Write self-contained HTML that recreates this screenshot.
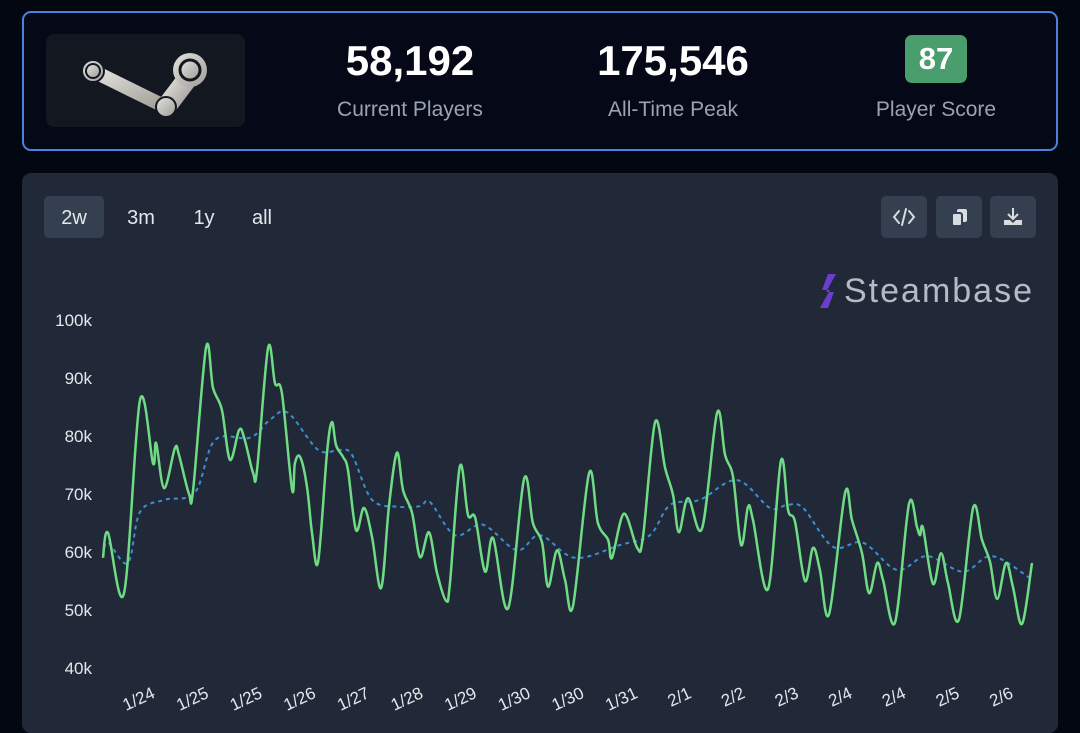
<!DOCTYPE html>
<html><head><meta charset="utf-8">
<style>
html,body{margin:0;padding:0;width:1080px;height:711px;overflow:hidden;background:#030712;font-family:"Liberation Sans",sans-serif;}
.top{position:absolute;left:22px;top:11px;width:1032px;height:136px;border:2px solid #4b82e0;border-radius:9px;background:#050917;}
.logo{position:absolute;left:22px;top:21px;width:199px;height:93px;background:#131820;border-radius:8px;}
.stat{position:absolute;top:24px;width:260px;text-align:center;}
.num{color:#fff;font-weight:bold;font-size:42px;line-height:48px;}
.lbl{color:#9aa3b2;font-size:21px;margin-top:13px;}
.badge{position:absolute;left:881px;top:22px;width:62px;height:48px;background:#4a9e6e;border-radius:7px;color:#fff;font-weight:bold;font-size:31px;text-align:center;line-height:48px;}
.card{position:absolute;left:22px;top:173px;width:1036px;height:560px;background:#212939;border-radius:9px;}
.rb{position:absolute;top:23px;height:42px;line-height:44px;color:#e5e7eb;font-size:20px;text-align:center;border-radius:5px;}
.ib{position:absolute;top:23px;width:46px;height:42px;background:#343f50;border-radius:5px;}
</style></head><body>
<div class="top">
  <div class="logo">
    <svg width="199" height="93" viewBox="0 0 199 93">
      <defs><linearGradient id="g" x1="0" y1="0" x2="1" y2="1"><stop offset="0" stop-color="#e4e3df"/><stop offset="1" stop-color="#9f9c96"/></linearGradient></defs>
      <line x1="47" y1="37" x2="120" y2="73" stroke="url(#g)" stroke-width="14" stroke-linecap="round"/>
      <path d="M120 73 L142 44" stroke="url(#g)" stroke-width="20" stroke-linecap="round"/>
      <circle cx="144" cy="36" r="17" fill="url(#g)"/>
      <circle cx="144" cy="36" r="10" fill="url(#g)" stroke="#131820" stroke-width="3"/>
      <circle cx="47" cy="37" r="11" fill="url(#g)" stroke="#131820" stroke-width="2"/>
      <circle cx="47" cy="37" r="7" fill="url(#g)" stroke="#131820" stroke-width="2"/>
      <circle cx="120" cy="73" r="10" fill="url(#g)" stroke="#131820" stroke-width="2"/>
    </svg>
  </div>
  <div class="stat" style="left:256px"><div class="num">58,192</div><div class="lbl">Current Players</div></div>
  <div class="stat" style="left:519px"><div class="num">175,546</div><div class="lbl">All-Time Peak</div></div>
  <div class="badge">87</div>
  <div class="stat" style="left:782px;top:85px"><div class="lbl" style="margin:0">Player Score</div></div>
</div>
<div class="card">
  <div class="rb" style="left:22px;width:60px;background:#343f50">2w</div>
  <div class="rb" style="left:94px;width:50px">3m</div>
  <div class="rb" style="left:160px;width:44px">1y</div>
  <div class="rb" style="left:220px;width:40px">all</div>
  <div class="ib" style="left:859px"><svg width="46" height="42"><path d="M18 15 L13 21 L18 27 M28 15 L33 21 L28 27 M25 13 L21 29" stroke="#d8dbe0" stroke-width="2" fill="none" stroke-linecap="round"/></svg></div>
  <div class="ib" style="left:914px"><svg width="46" height="42"><rect x="21" y="13" width="10" height="13" rx="2" fill="#d8dbe0"/><rect x="16" y="17" width="10" height="13" rx="2" fill="#d8dbe0" stroke="#343f50" stroke-width="2"/></svg></div>
  <div class="ib" style="left:968px"><svg width="46" height="42"><path d="M23 12 V23 M18 18 L23 23 L28 18" stroke="#d8dbe0" stroke-width="2" fill="none"/><path d="M14 24 h6 l3 3 l3 -3 h6 v5 h-18z" fill="#d8dbe0"/></svg></div>
</div>
<svg id="chart" width="1080" height="711" style="position:absolute;left:0;top:0">
  <g>
    <path d="M828 274 L836 274 L826 292 L834 292 L828 308 L820 308 L830 290 L822 290 Z" fill="#6a3fd0"/>
    <text x="844" y="302" font-size="34" fill="#b6bac2" font-family="Liberation Sans, sans-serif" textLength="188">Steambase</text>
  </g>
  <g id="yaxis"></g><g id="xaxis"></g><g id="series"></g>
</svg>
<script>
const yTicks=[100,90,80,70,60,50,40];
const xTickLabels=["1/24","1/25","1/25","1/26","1/27","1/28","1/29","1/30","1/30","1/31","2/1","2/2","2/3","2/4","2/4","2/5","2/6"];
const playerHours=[0,1.8,7.6,13.4,18.1,19.2,22.1,26.0,27.5,31.1,32.6,37.3,39.8,43.0,45.9,49.2,51.0,54.3,55.7,59.7,62.2,64.7,68.4,69.4,71.3,73.8,75.6,77.8,81.0,82.8,84.3,86.8,88.6,91.5,94.4,97.3,100.6,103.4,106.3,108.5,111.8,114.7,117.9,120.8,124.1,125.5,129.1,132.0,134.6,138.2,141.1,146.5,152.3,155.5,158.8,161.0,164.2,167.1,170.0,175.8,179.0,182.7,184.1,188.4,193.2,195.3,199.7,203.3,206.2,208.3,211.6,216.7,222.1,225.0,227.9,230.8,233.3,235.1,240.5,245.2,247.8,250.3,253.9,256.8,259.3,262.6,268.4,270.9,274.5,277.1,280.0,282.1,286.5,291.5,294.4,295.5,296.6,300.2,303.1,305.6,309.6,314.7,317.9,320.8,323.4,326.6,329.1,332.4,336];
const playerValues=[59.0,63.3,52.9,86.2,75.3,78.8,71.0,77.9,76.7,70.0,70.7,95.3,88.3,84.5,75.9,81.0,79.8,73.6,74.1,95.2,89.1,87.4,70.7,75.3,76.4,71.2,63.3,58.3,77.1,82.4,78.4,76.4,74.1,63.8,67.6,62.6,53.8,67.8,77.1,70.7,66.7,59.1,63.4,56.4,51.6,54.7,74.8,66.4,65.9,56.6,62.4,50.3,72.6,65.0,61.6,54.0,60.3,55.2,50.7,73.6,65.0,62.1,59.0,66.6,60.7,62.6,82.4,74.5,69.8,63.4,69.3,64.1,84.0,76.7,72.9,61.2,67.8,65.5,53.6,75.7,67.2,65.2,55.0,60.7,56.9,49.3,70.2,65.5,59.8,52.9,58.1,55.2,47.9,68.3,64.3,62.9,64.1,54.5,59.8,54.7,48.4,67.6,62.1,58.3,51.9,58.1,54.0,47.6,58.1];
const avgHours=[0,1.8,9.0,13.4,22.4,33.3,40.5,53.2,60.4,66.9,77.8,85.7,90.1,97.3,107.4,114.7,118.3,127.3,137.4,149.7,158.1,170.7,187.0,197.8,205.1,215.9,229.3,241.2,247.4,253.2,264.0,274.9,287.2,298.0,311.1,321.5,335.3];
const avgValues=[59.3,61.6,58.1,66.9,69.0,70.3,79.3,79.7,82.8,84.0,77.6,77.6,76.7,69.0,67.8,67.9,68.6,62.9,64.7,60.3,62.9,59.0,61.2,62.9,68.1,69.0,72.4,67.6,68.1,67.6,60.9,61.6,56.9,59.3,56.6,59.3,55.5];

const NS="http://www.w3.org/2000/svg";
const X0=103,X1=1032,Y40=668,PX10K=58;
function xs(h){return X0+(h/336)*(X1-X0);}
function ys(v){return Y40-(v-40)/10*PX10K;}
function mk(tag,attrs,parent){const e=document.createElementNS(NS,tag);for(const k in attrs)e.setAttribute(k,attrs[k]);parent.appendChild(e);return e;}
function smooth(pts){let d="M"+pts[0][0].toFixed(1)+" "+pts[0][1].toFixed(1);
 for(let i=0;i<pts.length-1;i++){const p0=pts[i-1]||pts[i],p1=pts[i],p2=pts[i+1],p3=pts[i+2]||p2;
  const c1x=p1[0]+(p2[0]-p0[0])/6,c1y=p1[1]+(p2[1]-p0[1])/6,c2x=p2[0]-(p3[0]-p1[0])/6,c2y=p2[1]-(p3[1]-p1[1])/6;
  d+=" C"+c1x.toFixed(1)+" "+c1y.toFixed(1)+" "+c2x.toFixed(1)+" "+c2y.toFixed(1)+" "+p2[0].toFixed(1)+" "+p2[1].toFixed(1);}
 return d;}
const ya=document.getElementById("yaxis");
yTicks.forEach(v=>{const t=mk("text",{x:92,y:ys(v)+6,"text-anchor":"end","font-size":17,fill:"#e5e7eb"},ya);t.textContent=v+"k";

});
const xa=document.getElementById("xaxis");
xTickLabels.forEach((l,i)=>{const h=13.4+i*19.4;const x=xs(h);
const t=mk("text",{x:x+16,y:697,"text-anchor":"end","font-size":17,fill:"#e5e7eb",transform:"rotate(-25 "+(x+16)+" 697)"},xa);t.textContent=l;

});
const sg=document.getElementById("series");
const avg=mk("path",{d:smooth(avgHours.map((h,i)=>[xs(h),ys(avgValues[i])])),fill:"none",stroke:"#3b8fd0","stroke-width":2,"stroke-dasharray":"4 4"},sg);


const pl=mk("path",{d:smooth(playerHours.map((h,i)=>[xs(h),ys(playerValues[i])])),fill:"none",stroke:"#6fdc84","stroke-width":2.5,"stroke-linejoin":"round"},sg);


</script>
</body></html>
